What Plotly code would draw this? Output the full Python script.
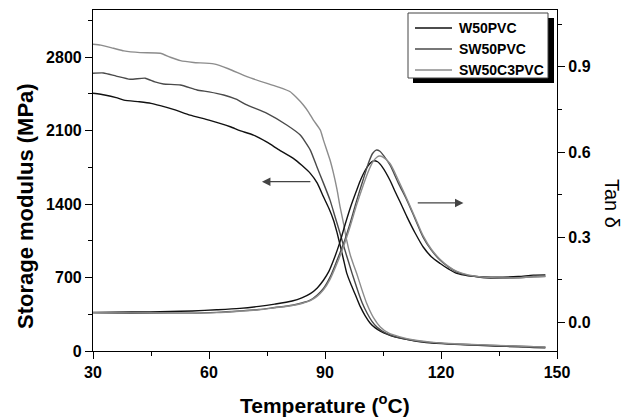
import plotly.graph_objects as go

# ---------------- data ----------------
series_names = ["W50PVC", "SW50PVC", "SW50C3PVC"]
series_colors = ["#111111", "#4a4a4a", "#8c8c8c"]

# Storage modulus (MPa) vs temperature (°C)
w50_E_T = [30, 33, 36, 38, 42, 45, 47.4, 51, 55.1, 60, 65.5, 68, 71.5, 75, 78, 81.8, 84, 86.2, 88, 89.6,
           91, 92.2, 93.1, 93.9, 94.8, 95.6, 96.5, 97.4, 98.3, 99.1, 100.4, 101.7, 103, 104.3, 106, 108,
           110, 113, 117, 122, 128, 134, 140, 144, 147]
w50_E = [2456, 2440, 2415, 2391, 2375, 2360, 2338, 2300, 2248, 2200, 2137, 2100, 2058, 1990, 1920, 1836,
         1770, 1693, 1600, 1470, 1360, 1247, 1130, 1010, 870, 745, 655, 575, 495, 425, 335, 265, 220, 190,
         160, 135, 118, 98, 78, 66, 56, 48, 40, 34, 30]

sw50_E_T = [30, 32.7, 36, 39.6, 43.5, 46, 48.2, 52.6, 56.9, 60, 63.8, 67, 69.8, 75, 80.1, 83.6, 86.2, 87.9,
            89.6, 91.3, 92.6, 93.9, 95, 96, 97, 97.8, 98.7, 99.6, 100.9, 102.2, 103.5, 104.8, 107, 109.4,
            113, 117.2, 122, 128, 134, 140, 144, 147]
sw50_E = [2647, 2650, 2620, 2590, 2600, 2565, 2545, 2535, 2488, 2470, 2440, 2400, 2345, 2265, 2154, 2058,
          1915, 1756, 1600, 1438, 1280, 1120, 980, 860, 740, 650, 550, 460, 360, 280, 225, 190, 150, 125,
          100, 82, 70, 60, 52, 45, 40, 37]

sw50c3_E_T = [30, 32, 35.3, 38, 42.2, 47.4, 50, 52.6, 56, 61.2, 65, 69.8, 75, 78, 81, 82.5, 84.4, 85.7, 87,
              88.8, 89.6, 91.3, 92.2, 93.1, 93.9, 94.8, 95.6, 96.5, 97.4, 98.2, 99.5, 100.8, 102.5, 104.3,
              106.5, 109.4, 113, 117.2, 122, 128, 134, 140, 144, 147]
sw50c3_E = [2924, 2915, 2885, 2860, 2844, 2838, 2800, 2767, 2750, 2736, 2690, 2615, 2550, 2515, 2471, 2420,
            2345, 2280, 2201, 2105, 2010, 1820, 1693, 1540, 1374, 1215, 1056, 920, 820, 738, 590, 452, 320,
            229, 170, 135, 105, 85, 72, 62, 54, 46, 41, 38]

# Tan delta vs temperature (°C)
w50_tan_T = [30, 40, 50, 55.7, 62, 68, 72.9, 77, 81.5, 84, 86.2, 88, 89.6, 91, 92.2, 93.9, 95.2, 96.7, 98.2,
             99.3, 100.4, 101.5, 102.5, 103.6, 104.8, 106.8, 108, 109.4, 111.2, 113.2, 115.4, 117.5, 119.8,
             122, 124.1, 127, 131, 136, 140, 143.9, 147]
w50_tan = [0.036, 0.037, 0.039, 0.041, 0.045, 0.050, 0.057, 0.065, 0.076, 0.087, 0.102, 0.122, 0.149, 0.180,
           0.219, 0.285, 0.345, 0.410, 0.466, 0.505, 0.536, 0.558, 0.569, 0.566, 0.548, 0.501, 0.465, 0.425,
           0.372, 0.318, 0.266, 0.232, 0.208, 0.188, 0.173, 0.165, 0.161, 0.160, 0.162, 0.167, 0.168]

sw50_tan_T = [30, 40, 50, 55.7, 62, 68, 72.9, 77, 81.5, 84, 86.2, 88, 89.6, 91.3, 93.1, 94.8, 96.5, 98.2,
              99.8, 101.2, 102.3, 103.2, 104.2, 105.3, 106.8, 109, 111.2, 113.3, 115.4, 117.5, 119.8, 122,
              124.1, 127, 131, 136, 140, 143.9, 147]
sw50_tan = [0.034, 0.033, 0.033, 0.033, 0.036, 0.041, 0.046, 0.053, 0.061, 0.069, 0.079, 0.097, 0.120, 0.160,
            0.219, 0.278, 0.350, 0.430, 0.500, 0.560, 0.595, 0.607, 0.603, 0.585, 0.555, 0.490, 0.430, 0.365,
            0.300, 0.255, 0.219, 0.195, 0.178, 0.166, 0.158, 0.156, 0.158, 0.161, 0.163]

sw50c3_tan_T = [30, 40, 50, 55.7, 62, 68, 72.9, 77, 81.5, 84, 86.2, 88, 89.6, 91.3, 93.1, 94.8, 96.5, 98.2,
                99.8, 101.2, 102.5, 103.4, 104.1, 105, 106.8, 109, 111.2, 113.3, 115.4, 117.5, 119.8, 122,
                124.1, 127, 131, 136, 140, 143.9, 147]
sw50c3_tan = [0.035, 0.034, 0.033, 0.033, 0.035, 0.040, 0.045, 0.052, 0.060, 0.067, 0.077, 0.093, 0.115,
              0.152, 0.208, 0.268, 0.338, 0.415, 0.480, 0.532, 0.568, 0.582, 0.586, 0.582, 0.560, 0.500,
              0.435, 0.370, 0.305, 0.258, 0.222, 0.197, 0.180, 0.168, 0.160, 0.157, 0.158, 0.161, 0.162]

x_ticks = [30, 60, 90, 120, 150]
y1_ticks = [0, 700, 1400, 2100, 2800]
y2_ticks = [0.0, 0.3, 0.6, 0.9]
y2_tick_text = ["0.0", "0.3", "0.6", "0.9"]

E_sets = [(w50_E_T, w50_E), (sw50_E_T, sw50_E), (sw50c3_E_T, sw50c3_E)]
tan_sets = [(w50_tan_T, w50_tan), (sw50_tan_T, sw50_tan), (sw50c3_tan_T, sw50c3_tan)]

FONT = "Liberation Sans, Arial, Helvetica, sans-serif"

fig = go.Figure()
for name, color, (tx, ty) in zip(series_names, series_colors, E_sets):
    fig.add_trace(go.Scatter(x=tx, y=ty, mode="lines", name=name,
                             line=dict(color=color, width=1.4, shape="spline", smoothing=0.5),
                             yaxis="y", showlegend=False))
for name, color, (tx, ty) in zip(series_names, series_colors, tan_sets):
    fig.add_trace(go.Scatter(x=tx, y=ty, mode="lines", name=name,
                             line=dict(color=color, width=1.4, shape="spline", smoothing=0.8),
                             yaxis="y2", showlegend=False))

# geometry: the page body adds an 8px offset, so the figure is sized to fit the window
OFF = 8
W, H = 634 - OFF, 419 - OFF
PL, PR, PT, PB = 93, 557, 10, 351          # plot area in window pixels
ml, mr, mt, mb = PL - OFF, W - (PR - OFF), PT - OFF, H - (PB - OFF)
pw, ph = W - ml - mr, H - mt - mb


def px(xs):
    return (xs - OFF - ml) / pw


def py(ys):
    return (H - mb - (ys - OFF)) / ph


axis_common = dict(showline=True, linecolor="black", linewidth=1.2, ticks="outside", ticklen=7,
                   tickwidth=1.2, tickcolor="black", showgrid=False, zeroline=False, automargin=False,
                   tickfont=dict(family=FONT, size=16, color="black", weight="bold"))

fig.update_layout(
    width=W, height=H,
    margin=dict(l=ml, r=mr, t=mt, b=mb),
    paper_bgcolor="white", plot_bgcolor="white",
    font=dict(family=FONT, color="black"),
    showlegend=False,
    xaxis=dict(range=[30, 150], tickvals=x_ticks, mirror=True,
               minor=dict(dtick=15, tick0=30, ticks="outside", ticklen=4, tickcolor="black", tickwidth=1.2),
               **axis_common),
    yaxis=dict(range=[0, 3250], tickvals=y1_ticks,
               minor=dict(dtick=350, tick0=0, ticks="outside", ticklen=4, tickcolor="black", tickwidth=1.2),
               **axis_common),
    yaxis2=dict(range=[-0.1, 1.1], tickvals=y2_ticks, ticktext=y2_tick_text, overlaying="y", side="right",
                minor=dict(dtick=0.15, tick0=0, ticks="outside", ticklen=4, tickcolor="black", tickwidth=1.2),
                **axis_common),
)

# axis titles
fig.add_annotation(text="Temperature (<sup>o</sup>C)", xref="paper", yref="paper", x=px(325), y=py(404),
                   showarrow=False, xanchor="center", yanchor="middle",
                   font=dict(family=FONT, size=21, color="black", weight="bold"))
fig.add_annotation(text="Storage modulus (MPa)", xref="paper", yref="paper", x=px(26), y=py(206),
                   showarrow=False, textangle=-90, xanchor="center", yanchor="middle",
                   font=dict(family=FONT, size=22, color="black", weight="bold"))
fig.add_annotation(text="Tan δ", xref="paper", yref="paper", x=px(612), y=py(203),
                   showarrow=False, textangle=90, xanchor="center", yanchor="middle",
                   font=dict(family=FONT, size=20, color="black"))

# legend (box with drop shadow)
fig.add_shape(type="rect", xref="paper", yref="paper",
              x0=px(413), x1=px(554), y0=py(83), y1=py(18),
              fillcolor="black", line=dict(width=0), layer="above")
fig.add_shape(type="rect", xref="paper", yref="paper",
              x0=px(408), x1=px(548), y0=py(78), y1=py(13),
              fillcolor="white", line=dict(color="#444444", width=1), layer="above")
for i, (name, color) in enumerate(zip(series_names, series_colors)):
    yrow = 28 + 21 * i
    fig.add_shape(type="line", xref="paper", yref="paper",
                  x0=px(415), x1=px(452), y0=py(yrow), y1=py(yrow),
                  line=dict(color=color, width=1.4), layer="above")
    fig.add_annotation(text=name, xref="paper", yref="paper", x=px(457), y=py(yrow),
                       showarrow=False, xanchor="left", yanchor="middle",
                       font=dict(family=FONT, size=14, color="black", weight="bold"))

# arrows indicating axes
fig.add_annotation(x=73.7, y=1614, ax=86.6, ay=1614, xref="x", yref="y", axref="x", ayref="y",
                   text="", showarrow=True, arrowhead=2, arrowsize=1.3, arrowwidth=1.3, arrowcolor="#444444")
fig.add_annotation(x=125.8, y=0.421, ax=113.6, ay=0.421, xref="x", yref="y2", axref="x", ayref="y2",
                   text="", showarrow=True, arrowhead=2, arrowsize=1.3, arrowwidth=1.3, arrowcolor="#444444")

fig.write_html("out.html")
